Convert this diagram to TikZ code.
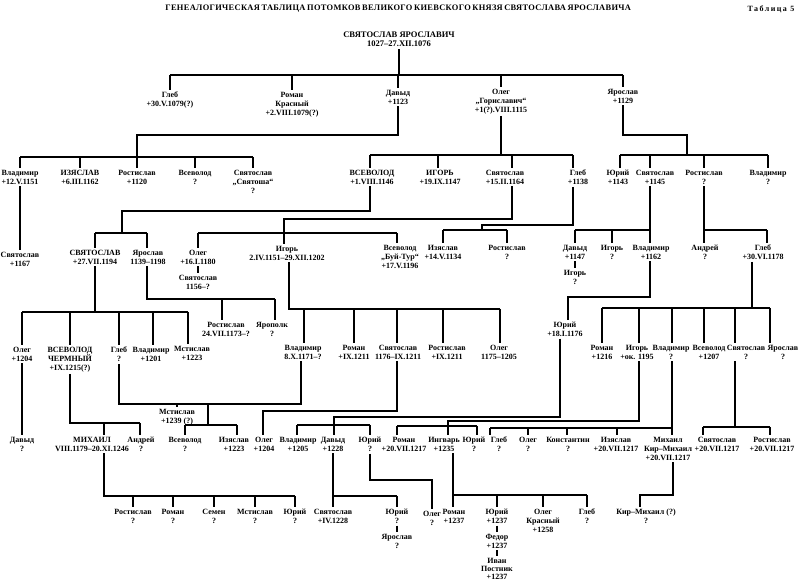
\documentclass[tikz,border=0pt]{standalone}
\usepackage{fontspec}
\setmainfont{Liberation Serif}
\newfontfamily\ttlfam[LetterSpace=4]{Liberation Serif}
\newfontfamily\tblfam[LetterSpace=18]{Liberation Serif}
\newcommand\drp[3]{\draw (#1,#2) -- (#3.north -| #1,0);}
\tikzset{
  lbl/.style={font=\bfseries\fontsize{6}{6.75}\selectfont, align=center, inner sep=0pt, outer sep=1.5pt, anchor=north},
}
\begin{document}
\begin{tikzpicture}[x=0.75pt,y=-0.75pt,line width=1.15pt]
\fill[white] (0,0) rectangle (800,584);
\useasboundingbox (0,0) rectangle (800,584);
% title
\node[font=\ttlfam\bfseries\fontsize{6.3}{7}\selectfont, inner sep=0pt] (ttl) at (394,9) {\makebox[343pt][s]{ГЕНЕАЛОГИЧЕСКАЯ ТАБЛИЦА ПОТОМКОВ ВЕЛИКОГО КИЕВСКОГО КНЯЗЯ СВЯТОСЛАВА ЯРОСЛАВИЧА}};
\node[font=\tblfam\bfseries\fontsize{6}{7}\selectfont, inner sep=0pt] (tbl) at (771,9) {Таблица 5};
% root
\node[lbl, font=\bfseries\fontsize{6.4}{7}\selectfont] (r) at (399,30) {СВЯТОСЛАВ ЯРОСЛАВИЧ\\1027–27.XII.1076};
% level 1
\node[lbl] (a1) at (170,90) {Глеб\\+30.V.1079(?)};
\node[lbl] (a2) at (292,90) {Роман\\Красный\\+2.VIII.1079(?)};
\node[lbl] (a3) at (398,88) {Давыд\\+1123};
\node[lbl] (a4) at (501,87) {Олег\\„Гориславич“\\+1(?).VIII.1115};
\node[lbl] (a5) at (623,87) {Ярослав\\+1129};
% level 2
\node[lbl] (b1) at (20,168) {Владимир\\+12.V.1151};
\node[lbl] (b2) at (80,168) {ИЗЯСЛАВ\\+6.III.1162};
\node[lbl] (b3) at (137,168) {Ростислав\\+1120};
\node[lbl] (b4) at (195,168) {Всеволод\\?};
\node[lbl] (b5) at (253,168) {Святослав\\„Святоша“\\?};
\node[lbl] (c1) at (372,168) {ВСЕВОЛОД\\+1.VIII.1146};
\node[lbl] (c2) at (440,168) {ИГОРЬ\\+19.IX.1147};
\node[lbl] (c3) at (505,168) {Святослав\\+15.II.1164};
\node[lbl] (c4) at (578,168) {Глеб\\+1138};
\node[lbl] (d1) at (618,168) {Юрий\\+1143};
\node[lbl] (d2) at (655,168) {Святослав\\+1145};
\node[lbl] (d3) at (704,168) {Ростислав\\?};
\node[lbl] (d4) at (768,168) {Владимир\\?};
% level 3
\node[lbl] (e0) at (20,250) {Святослав\\+1167};
\node[lbl] (e1) at (95,248) {СВЯТОСЛАВ\\+27.VII.1194};
\node[lbl] (e2) at (148,248) {Ярослав\\1139–1198};
\node[lbl] (f1) at (198,248) {Олег\\+16.I.1180};
\node[lbl] (f1b) at (198,273) {Святослав\\1156–?};
\node[lbl] (f2) at (287,244) {Игорь\\2.IV.1151–29.XII.1202};
\node[lbl] (f3) at (400,243) {Всеволод\\„Буй-Тур“\\+17.V.1196};
\node[lbl] (g1) at (443,243) {Изяслав\\+14.V.1134};
\node[lbl] (g2) at (507,243) {Ростислав\\?};
\node[lbl] (h1) at (575,243) {Давыд\\+1147};
\node[lbl] (h1b) at (575,268) {Игорь\\?};
\node[lbl] (h2) at (612,243) {Игорь\\?};
\node[lbl] (h3) at (651,243) {Владимир\\+1162};
\node[lbl] (i1) at (705,243) {Андрей\\?};
\node[lbl] (i2) at (763,243) {Глеб\\+30.VI.1178};
% level 4
\node[lbl] (j1) at (226,320) {Ростислав\\24.VII.1173–?};
\node[lbl] (j2) at (272,320) {Ярополк\\?};
\node[lbl] (k1) at (22,345) {Олег\\+1204};
\node[lbl] (k2) at (70,345) {ВСЕВОЛОД\\ЧЕРМНЫЙ\\+IX.1215(?)};
\node[lbl] (k3) at (119,345) {Глеб\\?};
\node[lbl] (k4) at (151,345) {Владимир\\+1201};
\node[lbl] (k5) at (192,344) {Мстислав\\+1223};
\node[lbl] (l1) at (303,343) {Владимир\\8.X.1171–?};
\node[lbl] (l2) at (354,343) {Роман\\+IX.1211};
\node[lbl] (l3) at (398,343) {Святослав\\1176–IX.1211};
\node[lbl] (l4) at (447,343) {Ростислав\\+IX.1211};
\node[lbl] (l5) at (499,343) {Олег\\1175–1205};
\node[lbl] (m1) at (565,320) {Юрий\\+18.I.1176};
\node[lbl] (n1) at (602,343) {Роман\\+1216};
\node[lbl] (n2) at (637,343) {Игорь\\+ок. 1195};
\node[lbl] (n3) at (671,343) {Владимир\\?};
\node[lbl] (n4) at (709,343) {Всеволод\\+1207};
\node[lbl] (n5) at (746,343) {Святослав\\?};
\node[lbl] (n6) at (783,343) {Ярослав\\?};
% level 5
\node[lbl] (o1) at (22,435) {Давыд\\?};
\node[lbl] (o2) at (92,435) {МИХАИЛ\\VIII.1179–20.XI.1246};
\node[lbl] (o3) at (141,435) {Андрей\\?};
\node[lbl] (o4) at (177,407) {Мстислав\\+1239 (?)};
\node[lbl] (p1) at (185,435) {Всеволод\\?};
\node[lbl] (p2) at (234,435) {Изяслав\\+1223};
\node[lbl] (q1) at (264,435) {Олег\\+1204};
\node[lbl] (q2) at (298,435) {Владимир\\+1205};
\node[lbl] (q3) at (333,435) {Давыд\\+1228};
\node[lbl] (q4) at (370,435) {Юрий\\?};
\node[lbl] (r1) at (404,435) {Роман\\+20.VII.1217};
\node[lbl] (r2) at (444,435) {Ингварь\\+1235};
\node[lbl] (r3) at (474,435) {Юрий\\?};
\node[lbl] (s1) at (499,435) {Глеб\\?};
\node[lbl] (s2) at (528,435) {Олег\\?};
\node[lbl] (s3) at (568,435) {Константин\\?};
\node[lbl] (s4) at (616,435) {Изяслав\\+20.VII.1217};
\node[lbl] (s5) at (668,435) {Михаил\\Кир–Михаил\\+20.VII.1217};
\node[lbl] (s6) at (717,435) {Святослав\\+20.VII.1217};
\node[lbl] (s7) at (772,435) {Ростислав\\+20.VII.1217};
% level 6
\node[lbl] (t1) at (133,507) {Ростислав\\?};
\node[lbl] (t2) at (173,507) {Роман\\?};
\node[lbl] (t3) at (214,507) {Семен\\?};
\node[lbl] (t4) at (255,507) {Мстислав\\?};
\node[lbl] (t5) at (295,507) {Юрий\\?};
\node[lbl] (u1) at (333,507) {Святослав\\+IV.1228};
\node[lbl] (u2) at (397,507) {Юрий\\?};
\node[lbl] (u2b) at (397,532) {Ярослав\\?};
\node[lbl] (u3) at (432,509) {Олег\\?};
\node[lbl] (v1) at (454,507) {Роман\\+1237};
\node[lbl] (v2) at (497,507) {Юрий\\+1237};
\node[lbl] (v2b) at (497,532) {Федор\\+1237};
\node[lbl, font=\bfseries\fontsize{6}{6}\selectfont] (v2c) at (497,556) {Иван\\Постник\\+1237};
\node[lbl] (v3) at (543,507) {Олег\\Красный\\+1258};
\node[lbl] (v4) at (587,507) {Глеб\\?};
\node[lbl] (w1) at (646,507) {Кир–Михаил (?)\\?};
% ---- connectors
\draw (r.south) -- (399,75);
\draw (170,75) -- (623,75);
\drp{170}{75}{a1} \drp{292}{75}{a2} \drp{398}{75}{a3} \drp{501}{75}{a4} \drp{623}{75}{a5}
% Davyd
\draw (a3.south -| 398,0) -- (398,135) -- (137,135) -- (137,157);
\draw (20,157) -- (253,157);
\drp{20}{157}{b1} \drp{80}{157}{b2} \drp{137}{157}{b3} \drp{195}{157}{b4} \drp{253}{157}{b5}
% Oleg
\draw (a4.south -| 501,0) -- (501,155);
\draw (370,155) -- (573,155);
\drp{370}{155}{c1} \drp{438}{155}{c2} \drp{512}{155}{c3} \drp{573}{155}{c4}
% Yaroslav
\draw (a5.south -| 623,0) -- (623,135) -- (687,135) -- (687,155);
\draw (620,155) -- (768,155);
\drp{620}{155}{d1} \drp{650}{155}{d2} \drp{704}{155}{d3} \drp{768}{155}{d4}
% Vladimir -> Svyatoslav
\draw (b1.south -| 20,0) -- (e0.north -| 20,0);
% Vsevolod
\draw (c1.south -| 370,0) -- (370,211) -- (122,211) -- (122,233);
\draw (95,233) -- (147,233);
\drp{95}{233}{e1} \drp{147}{233}{e2}
% Svyatoslav +1164
\draw (c3.south -| 512,0) -- (512,219) -- (284,219) -- (284,233);
\draw (198,233) -- (397,233);
\drp{198}{233}{f1} \drp{284}{233}{f2} \drp{397}{233}{f3}
\draw (f1.south) -- (f1b.north);
% Gleb +1138
\draw (c4.south -| 573,0) -- (573,225) -- (482,225) -- (482,230);
\draw (443,230) -- (507,230);
\drp{443}{230}{g1} \drp{507}{230}{g2}
% Svyatoslav +1145
\draw (d2.south -| 650,0) -- (650,230);
\draw (575,230) -- (650,230);
\drp{575}{230}{h1} \drp{612}{230}{h2} \drp{650}{230}{h3}
\draw (h1.south) -- (h1b.north);
% Rostislav ?
\draw (d3.south -| 704,0) -- (704,230);
\draw (704,230) -- (767,230);
\drp{704}{230}{i1} \drp{767}{230}{i2}
% Yaroslav 1139-1198
\draw (e2.south -| 147,0) -- (147,299) -- (275,299);
\drp{222}{299}{j1} \drp{275}{299}{j2}
% Svyatoslav +1194
\draw (e1.south -| 95,0) -- (95,312);
\draw (22,312) -- (188,312);
\drp{22}{312}{k1} \drp{70}{312}{k2} \drp{119}{312}{k3} \drp{153}{312}{k4} \drp{188}{312}{k5}
% Igor 1151-1202
\draw (f2.south -| 289,0) -- (289,309) -- (500,309);
\drp{304}{309}{l1} \drp{354}{309}{l2} \drp{397}{309}{l3} \drp{443}{309}{l4} \drp{500}{309}{l5}
% Vladimir +1162
\draw (h3.south -| 650,0) -- (650,297) -- (568,297) -- (m1.north -| 568,0);
% Gleb +1178
\draw (i2.south -| 752,0) -- (752,308);
\draw (602,308) -- (770,308);
\drp{602}{308}{n1} \drp{639}{308}{n2} \drp{672}{308}{n3} \drp{704}{308}{n4} \drp{735}{308}{n5} \drp{770}{308}{n6}
% Oleg +1204 -> Davyd
\draw (k1.south) -- (o1.north);
% Vsevolod Chermny
\draw (k2.south -| 70,0) -- (70,423) -- (140,423);
\drp{104}{423}{o2} \drp{140}{423}{o3}
% Gleb ? -> Mstislav
\draw (k3.south -| 119,0) -- (119,404) -- (208,404);
\drp{177}{404}{o4}
% Vladimir 8.X.1171
\draw (l1.south -| 301,0) -- (301,404) -- (208,404) -- (208,425);
\draw (185,425) -- (237,425);
\drp{185}{425}{p1} \drp{237}{425}{p2}
% Svyatoslav 1176
\draw (l3.south -| 397,0) -- (397,411) -- (263,411) -- (q1.north -| 263,0);
% Yuri +1176
\draw (m1.south -| 560,0) -- (560,417) -- (334,417) -- (334,425);
\draw (297,425) -- (370,425);
\drp{297}{425}{q2} \drp{334}{425}{q3} \drp{370}{425}{q4}
% Igor +1195
\draw (n2.south -| 639,0) -- (639,421) -- (448,421) -- (448,426);
\draw (397,426) -- (477,426);
\drp{397}{426}{r1} \drp{448}{426}{r2} \drp{477}{426}{r3}
% Vladimir ?
\draw (n3.south -| 672,0) -- (s5.north -| 672,0);
\draw (490,428) -- (672,428);
\drp{490}{428}{s1} \drp{528}{428}{s2} \drp{567}{428}{s3} \drp{617}{428}{s4}
% Svyatoslav ?
\draw (n5.south -| 735,0) -- (735,427);
\draw (703,427) -- (770,427);
\drp{703}{427}{s6} \drp{770}{427}{s7}
% Mikhail VIII.1179
\draw (o2.south -| 104,0) -- (104,496) -- (295,496);
\drp{133}{496}{t1} \drp{173}{496}{t2} \drp{214}{496}{t3} \drp{255}{496}{t4} \drp{295}{496}{t5}
% Davyd +1228
\draw (q3.south -| 333,0) -- (u1.north -| 333,0);
\draw (333,496) -- (397,496);
\drp{397}{496}{u2}
\draw (u2.south) -- (u2b.north);
% Yuri ?
\draw (q4.south -| 370,0) -- (370,480) -- (432,480) -- (u3.north -| 432,0);
% Ingvar
\draw (r2.south -| 453,0) -- (v1.north -| 453,0);
\draw (453,495) -- (587,495);
\drp{497}{495}{v2} \drp{543}{495}{v3} \drp{587}{495}{v4}
\draw (v2.south) -- (v2b.north);
\draw (v2b.south) -- (v2c.north);
% Mikhail Kir-Mikhail
\draw (s5.south -| 673,0) -- (673,495) -- (640,495) -- (w1.north -| 640,0);
\end{tikzpicture}
\end{document}
